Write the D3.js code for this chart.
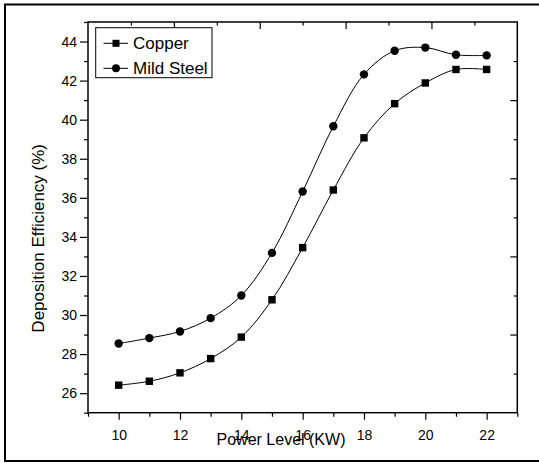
<!DOCTYPE html>
<html><head><meta charset="utf-8">
<script src="https://cdn.jsdelivr.net/npm/d3@7"></script>
<style>html,body{margin:0;padding:0;background:#fff;}svg{display:block;}</style>
</head><body>
<script>
const power = [10, 11, 12, 13, 14, 15, 16, 17, 18, 19, 20, 21, 22];
const copper = [26.41, 26.61, 27.04, 27.77, 28.87, 30.78, 33.45, 36.40, 39.07, 40.82, 41.88, 42.57, 42.57];
const mildSteel = [28.54, 28.82, 29.16, 29.84, 31.00, 33.18, 36.32, 39.66, 42.32, 43.53, 43.69, 43.32, 43.29];
const xMajor = [10, 12, 14, 16, 18, 20, 22];
const xMinor = [9, 11, 13, 15, 17, 19, 21, 23];
const yMajor = [26, 28, 30, 32, 34, 36, 38, 40, 42, 44];
const yMinor = [25, 27, 29, 31, 33, 35, 37, 39, 41, 43, 45];
const seriesNames = ["Copper", "Mild Steel"];
const xTitle = "Power Level (KW)";
const yTitle = "Deposition Efficiency (%)";

const W = 539, H = 463;
const font = "'Liberation Sans', Arial, sans-serif";
const svg = d3.select("body").append("svg").attr("width", W).attr("height", H);

// outer frame
svg.append("rect").attr("x", 5).attr("y", 4.5).attr("width", 545).attr("height", 456.5)
  .attr("fill", "none").attr("stroke", "#000").attr("stroke-width", 2);

const L = 88, R = 517.3, T = 22, B = 412.7;
const x = d3.scaleLinear().domain([9, 23]).range([L, R]);
const y = d3.scaleLinear().domain([25, 45]).range([B, T]);

function styleAxis(g) {
  g.select(".domain").remove();
  g.selectAll("line").attr("stroke", "#000").attr("stroke-width", 1.2);
  g.selectAll("text").attr("font-family", font).attr("font-size", 14).attr("fill", "#000");
}

// bottom axis
svg.append("g").attr("transform", `translate(0,${B})`)
  .call(d3.axisBottom(x).tickValues(xMinor).tickSize(4).tickFormat(""))
  .call(styleAxis);
svg.append("g").attr("transform", `translate(0,${B})`)
  .call(d3.axisBottom(x).tickValues(xMajor).tickSize(7).tickPadding(10).tickFormat(d3.format("d")))
  .call(styleAxis);

// left axis
svg.append("g").attr("transform", `translate(${L},0)`)
  .call(d3.axisLeft(y).tickValues(yMinor).tickSize(4).tickFormat(""))
  .call(styleAxis);
svg.append("g").attr("transform", `translate(${L},0)`)
  .call(d3.axisLeft(y).tickValues(yMajor).tickSize(8).tickPadding(3).tickFormat(d3.format("d")))
  .call(styleAxis);

// top & right axes: 10 equal divisions, inward ticks
const topS = d3.scaleLinear().domain([0, 10]).range([L, R]);
const rightS = d3.scaleLinear().domain([0, 10]).range([T, B]);
const div = d3.range(1, 10);
svg.append("g").attr("transform", `translate(0,${T})`)
  .call(d3.axisBottom(topS).tickValues(div.filter(d => d % 2 === 1)).tickSize(3.5).tickFormat(""))
  .call(styleAxis);
svg.append("g").attr("transform", `translate(0,${T})`)
  .call(d3.axisBottom(topS).tickValues(div.filter(d => d % 2 === 0)).tickSize(7).tickFormat(""))
  .call(styleAxis);
svg.append("g").attr("transform", `translate(${R},0)`)
  .call(d3.axisLeft(rightS).tickValues(div.filter(d => d % 2 === 1)).tickSize(3.5).tickFormat(""))
  .call(styleAxis);
svg.append("g").attr("transform", `translate(${R},0)`)
  .call(d3.axisLeft(rightS).tickValues(div.filter(d => d % 2 === 0)).tickSize(7).tickFormat(""))
  .call(styleAxis);

// plot border
svg.append("rect").attr("x", L).attr("y", T).attr("width", R - L).attr("height", B - T)
  .attr("fill", "none").attr("stroke", "#000").attr("stroke-width", 1.5);

// curves
const line = d3.line().x(d => x(d[0])).y(d => y(d[1])).curve(d3.curveCatmullRom.alpha(0.5));
const cuData = power.map((p, i) => [p, copper[i]]);
const msData = power.map((p, i) => [p, mildSteel[i]]);
[cuData, msData].forEach(data => {
  svg.append("path").datum(data).attr("d", line)
    .attr("fill", "none").attr("stroke", "#000").attr("stroke-width", 1);
});
svg.append("g").selectAll("rect").data(cuData).join("rect")
  .attr("x", d => x(d[0]) - 3.7).attr("y", d => y(d[1]) - 3.7)
  .attr("width", 7.4).attr("height", 7.4).attr("fill", "#000");
svg.append("g").selectAll("circle").data(msData).join("circle")
  .attr("cx", d => x(d[0])).attr("cy", d => y(d[1])).attr("r", 4.2).attr("fill", "#000");

// legend
const lg = svg.append("g");
lg.append("rect").attr("x", 95.7).attr("y", 27.7).attr("width", 116.3).attr("height", 50)
  .attr("fill", "#fff").attr("stroke", "#000").attr("stroke-width", 1);
const rowsY = [43.3, 68.3];
rowsY.forEach((ry, i) => {
  lg.append("line").attr("x1", 103.5).attr("x2", 128).attr("y1", ry).attr("y2", ry)
    .attr("stroke", "#000").attr("stroke-width", 1);
  if (i === 0) {
    lg.append("rect").attr("x", 116 - 3.5).attr("y", ry - 3.5).attr("width", 7).attr("height", 7).attr("fill", "#000");
  } else {
    lg.append("circle").attr("cx", 116).attr("cy", ry).attr("r", 4).attr("fill", "#000");
  }
  lg.append("text").attr("x", 133).attr("y", ry + 6).text(seriesNames[i])
    .attr("font-family", font).attr("font-size", 17).attr("fill", "#000");
});

// axis titles
svg.append("text").attr("x", 281).attr("y", 445).attr("text-anchor", "middle")
  .attr("font-family", font).attr("font-size", 16).attr("fill", "#000").text(xTitle);
svg.append("text").attr("transform", "translate(43.5,238.3) rotate(-90)").attr("text-anchor", "middle")
  .attr("font-family", font).attr("font-size", 17).attr("fill", "#000").text(yTitle);
</script>
</body></html>
